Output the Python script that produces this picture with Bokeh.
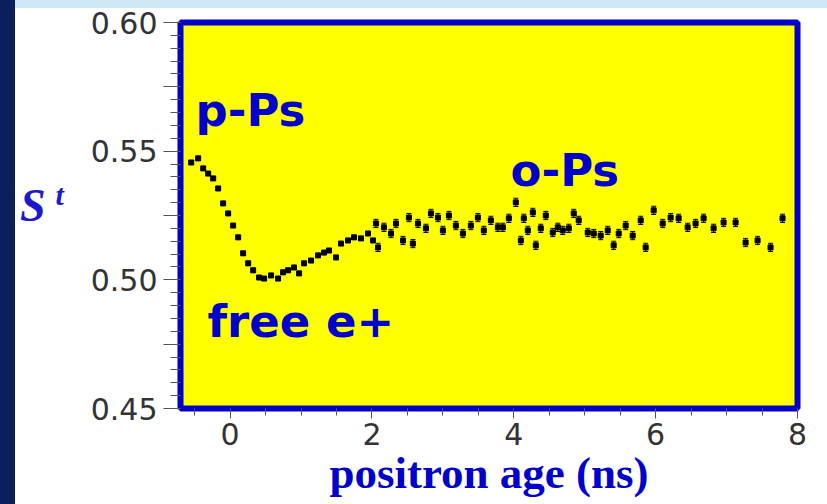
from bokeh.plotting import figure
from bokeh.models import (Range1d, FixedTicker, SingleIntervalTicker, Label,
                          ColumnDataSource, Whisker, TeeHead, Div, CustomJSTickFormatter)
from bokeh.layouts import row
from bokeh.embed import file_html
from bokeh.resources import INLINE

# ---------------- data ----------------
AGE = [-0.549, -0.451, -0.380, -0.310, -0.239, -0.169, -0.099, -0.028, 0.042, 0.113,
       0.183, 0.254, 0.324, 0.408, 0.479, 0.577, 0.676, 0.746, 0.817, 0.901,
       0.972, 1.042, 1.141, 1.239, 1.324, 1.394, 1.493, 1.563, 1.662, 1.746,
       1.845, 1.944, 2.014, 2.085, 2.056, 2.169, 2.268, 2.338, 2.437, 2.521,
       2.577, 2.648, 2.761, 2.831, 2.930, 3.000, 3.085, 3.183, 3.282, 3.394,
       3.493, 3.577, 3.676, 3.775, 3.845, 3.930, 4.028, 4.099, 4.141, 4.197,
       4.268, 4.310, 4.380, 4.451, 4.549, 4.620, 4.690, 4.775, 4.845, 4.915,
       5.042, 5.127, 5.225, 5.324, 5.408, 5.479, 5.577, 5.676, 5.789, 5.859,
       5.972, 6.099, 6.211, 6.324, 6.451, 6.563, 6.676, 6.817, 6.958, 7.127,
       7.268, 7.437, 7.620, 7.789]

S_PARAM = [0.5456, 0.5472, 0.5433, 0.5413, 0.5394, 0.5355, 0.5297, 0.5258, 0.5211, 0.5165,
           0.5103, 0.5064, 0.5037, 0.5009, 0.5005, 0.5017, 0.5005, 0.5029, 0.5037, 0.5048,
           0.5025, 0.5064, 0.5075, 0.5095, 0.5106, 0.5114, 0.5087, 0.5141, 0.5153, 0.5165,
           0.5161, 0.5180, 0.5153, 0.5126, 0.5219, 0.5204, 0.5180, 0.5219, 0.5153, 0.5242,
           0.5141, 0.5219, 0.5200, 0.5258, 0.5242, 0.5192, 0.5250, 0.5211, 0.5180, 0.5211,
           0.5242, 0.5192, 0.5231, 0.5204, 0.5204, 0.5239, 0.5301, 0.5153, 0.5239, 0.5192,
           0.5262, 0.5134, 0.5200, 0.5250, 0.5184, 0.5204, 0.5192, 0.5200, 0.5258, 0.5231,
           0.5184, 0.5180, 0.5172, 0.5192, 0.5134, 0.5180, 0.5211, 0.5172, 0.5231, 0.5126,
           0.5270, 0.5219, 0.5242, 0.5239, 0.5204, 0.5219, 0.5239, 0.5200, 0.5223, 0.5223,
           0.5145, 0.5153, 0.5126, 0.5239]

S_ERR = [0.0008, 0.0008, 0.0008, 0.0008, 0.0008, 0.0008, 0.0008, 0.0008, 0.0008, 0.0008,
         0.0008, 0.0008, 0.0008, 0.0008, 0.0008, 0.0008, 0.0008, 0.0008, 0.0008, 0.0008,
         0.0008, 0.0008, 0.0008, 0.0008, 0.0008, 0.0008, 0.0008, 0.0008, 0.0008, 0.0008,
         0.0008, 0.0008, 0.0008, 0.0016, 0.0016, 0.0016, 0.0016, 0.0016, 0.0016, 0.0016,
         0.0016, 0.0016, 0.0016, 0.0016, 0.0016, 0.0016, 0.0016, 0.0016, 0.0016, 0.0016,
         0.0016, 0.0016, 0.0016, 0.0016, 0.0016, 0.0016, 0.0016, 0.0016, 0.0016, 0.0016,
         0.0016, 0.0016, 0.0016, 0.0016, 0.0016, 0.0016, 0.0016, 0.0016, 0.0016, 0.0016,
         0.0016, 0.0016, 0.0016, 0.0016, 0.0016, 0.0016, 0.0016, 0.0016, 0.0016, 0.0016,
         0.0016, 0.0016, 0.0016, 0.0016, 0.0016, 0.0016, 0.0016, 0.0016, 0.0016, 0.0016,
         0.0016, 0.0016, 0.0016, 0.0016]

X_MAJOR_STEP = 2
Y_TICKS = [0.45, 0.475, 0.50, 0.525, 0.55, 0.575, 0.60]
Y_MINOR = [round(0.45 + 0.005 * i, 3) for i in range(31)]

X_TITLE = "positron age (ns)"
ANNOTATIONS = [("p-Ps", -0.488, 0.5658), ("o-Ps", 3.954, 0.5425), ("free e+", -0.319, 0.4838)]

BLUE = "#0000cc"

# ---------------- figure ----------------
p = figure(width=747, height=504, output_backend="svg", toolbar_location=None,
           x_range=Range1d(-0.7, 8.0), y_range=Range1d(0.45, 0.60),
           min_border_left=100, min_border_right=30, min_border_top=22, min_border_bottom=96,
           margin=0)
p.background_fill_color = "#ffff00"
p.border_fill_color = None
p.outline_line_color = "#0000c8"
p.outline_line_width = 6
p.xgrid.visible = False
p.ygrid.visible = False

# x axis
xa = p.xaxis[0]
xa.ticker = SingleIntervalTicker(interval=X_MAJOR_STEP, num_minor_ticks=4)
xa.axis_line_color = None
xa.major_tick_in = 0
xa.major_tick_out = 10
xa.minor_tick_in = 0
xa.minor_tick_out = 7
xa.major_tick_line_color = "#555555"
xa.minor_tick_line_color = "#555555"
xa.major_label_text_font = "DejaVu Sans"
xa.major_label_text_font_size = "30px"
xa.major_label_text_color = "#333333"
xa.major_label_standoff = 4
xa.axis_label = X_TITLE
xa.axis_label_text_font = "Liberation Serif"
xa.axis_label_text_font_style = "bold"
xa.axis_label_text_font_size = "45px"
xa.axis_label_text_color = BLUE
xa.axis_label_standoff = 0

# y axis
ya = p.yaxis[0]
ya.ticker = FixedTicker(ticks=Y_TICKS, minor_ticks=Y_MINOR)
ya.formatter = CustomJSTickFormatter(code="""
    const v = Math.round(tick * 1000);
    return (v % 50 === 0) ? tick.toFixed(2) : '';
""")
ya.axis_line_color = None
ya.major_tick_in = 0
ya.major_tick_out = 17
ya.minor_tick_in = 0
ya.minor_tick_out = 10
ya.major_tick_line_color = "#555555"
ya.minor_tick_line_color = "#555555"
ya.major_label_text_font = "DejaVu Sans"
ya.major_label_text_font_size = "30px"
ya.major_label_text_color = "#333333"
ya.major_label_standoff = 6

# data
src = ColumnDataSource(dict(
    x=AGE, y=S_PARAM,
    upper=[s + e for s, e in zip(S_PARAM, S_ERR)],
    lower=[s - e for s, e in zip(S_PARAM, S_ERR)],
))
w = Whisker(source=src, base="x", upper="upper", lower="lower",
            line_color="black", line_width=1,
            upper_head=TeeHead(size=5, line_color="black", line_width=1),
            lower_head=TeeHead(size=5, line_color="black", line_width=1))
p.add_layout(w)
p.scatter("x", "y", source=src, marker="square", size=5, color="black")

for txt, xx, yy in ANNOTATIONS:
    p.add_layout(Label(x=xx, y=yy, text=txt, text_font="DejaVu Sans",
                       text_font_style="bold", text_font_size="45px",
                       text_color=BLUE, text_baseline="alphabetic"))

# y title  S^t (HTML text to the left of the figure)
s_title = Div(
    text=('<div style="padding:183px 0 0 20px; font-family:\'Liberation Serif\',serif; '
          'font-weight:bold; font-style:italic; font-size:46px; line-height:1; '
          'color:#1a1acc; white-space:nowrap;">S<span style="font-size:30px; '
          'position:relative; top:-16px; margin-left:10px;">t</span></div>'),
    width=80, height=504, margin=0)

slide_bg = ("linear-gradient(to right, #0b1f5c 0px, #0b1f5c 15px, rgba(0,0,0,0) 15px), "
            "linear-gradient(to bottom, #cfe8f6 0px, #cfe8f6 8px, #ffffff 8px)")
layout = row(s_title, p, spacing=0, margin=0, styles={"background": slide_bg})

open("out.html", "w").write(file_html(layout, INLINE))
